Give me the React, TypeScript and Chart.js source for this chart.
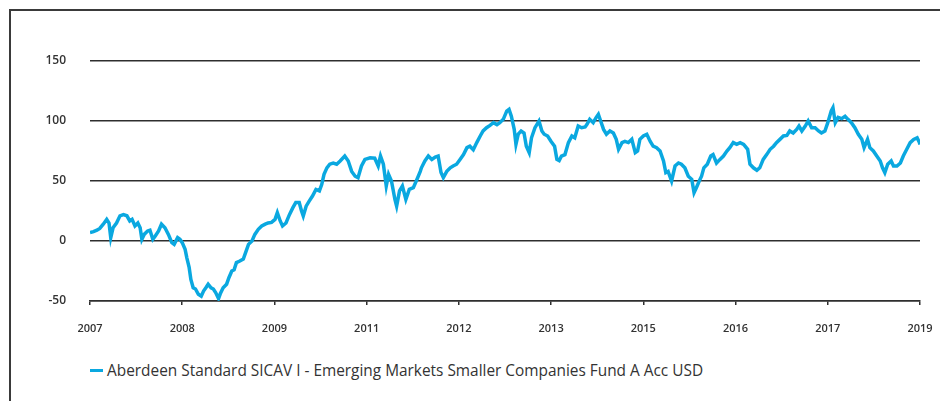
import React, { useEffect, useRef } from "react";
import { Chart, registerables } from "chart.js";

Chart.register(...registerables);

const seriesLabel =
  "Aberdeen Standard SICAV I - Emerging Markets Smaller Companies Fund A Acc USD";

// x axis: months since Jan 2007, ticks every 16 months
const tickMonths = [0, 16, 32, 48, 64, 80, 96, 112, 128, 144];
const tickLabels = ["2007", "2008", "2009", "2011", "2012", "2013", "2015", "2016", "2017", "2019"];
const yTicks = [-50, 0, 50, 100, 150];

const months = [
  0, 0.6, 1.2, 1.7, 2.3, 2.9, 3.3, 3.6, 4.0, 4.6,
  5.2, 5.8, 6.4, 6.9, 7.3, 7.8, 8.3, 8.7, 9.0, 9.4,
  10.0, 10.4, 10.9, 11.3, 11.9, 12.4, 13.0, 13.6, 14.2, 14.6,
  15.2, 15.6, 16.0, 16.5, 16.8, 17.2, 17.5, 17.9, 18.3, 18.8,
  19.3, 19.7, 20.1, 20.5, 21.0, 21.4, 21.8, 22.3, 22.6, 23.1,
  23.7, 24.1, 24.6, 25.0, 25.4, 26.0, 26.6, 27.1, 27.5, 28.1,
  28.6,
  29.2, 29.8, 30.4, 30.9, 31.5, 32.1, 32.5, 33.0, 33.4, 34.0,
  34.6, 35.2, 35.7, 36.3, 36.7, 37.0, 37.5, 38.0, 38.6, 39.2,
  39.8, 40.2, 40.6, 41.1, 41.6, 42.2, 42.8, 43.4, 44.2, 44.8,
  45.4, 46.0, 46.5, 47.1, 47.7, 48.6, 49.4, 50.0, 50.4, 50.9,
  51.4, 51.8, 52.3, 52.9, 53.2, 53.7, 54.2, 54.8, 55.4, 56.1,
  56.7, 57.3,
  57.5, 58.1, 58.7, 59.3, 59.9, 60.4, 60.9, 61.3, 61.9, 62.5,
  63.0, 63.6, 64.2, 64.8, 65.4, 65.9, 66.5, 67.1, 67.7, 68.2,
  68.8, 69.4, 70.0, 70.6, 71.1, 71.7, 72.3, 72.7, 73.1, 73.6,
  73.9, 74.3, 74.8, 75.3, 75.7, 76.2, 76.6, 77.2, 77.9, 78.4,
  78.8, 79.4, 80.0, 80.6, 81.0, 81.4, 81.8, 82.4, 83.0, 83.6,
  84.1, 84.7, 85.3, 85.9,
  86.2, 86.7, 87.3, 87.8, 88.2, 88.6, 89.1, 89.6, 90.2, 90.8,
  91.3, 91.7, 92.3, 92.8, 93.4, 94.0, 94.6, 95.0, 95.4, 96.0,
  96.6, 97.2, 97.7, 98.3, 98.9, 99.5, 99.9, 100.3, 100.9, 101.5,
  102.1, 102.6, 103.2, 103.8, 104.4, 104.8, 105.2, 105.7, 106.1, 106.5,
  107.1, 107.7, 108.1, 108.7, 109.3, 109.9, 110.5, 111.0, 111.6, 112.2,
  112.8, 113.4,
  114.1, 114.5, 115.1, 115.7, 116.2, 116.8, 117.4, 118.0, 118.6, 119.1,
  119.7, 120.3, 120.9, 121.4, 122.0, 122.6, 123.0, 123.5, 124.1, 124.6,
  125.2, 125.8, 126.4, 126.9, 127.5, 128.0, 128.6, 128.9, 129.3, 129.8,
  130.4, 131.0, 131.5, 132.1, 132.7, 133.3, 133.9, 134.3, 134.9, 135.3,
  135.9, 136.5, 137.1, 137.5, 137.9, 138.4, 139.0, 139.4, 140.0, 140.6,
  141.1, 141.7, 142.3, 142.9, 143.5, 143.9, 144,
];

const fundValues = [
  7, 7.8, 9, 10.5, 14, 18, 15, 2.8, 11, 15,
  21, 22, 21, 16.7, 18, 12.5, 15, 11, 1.4, 5.5,
  8.3, 9, 1.5, 4, 8.3, 14, 11, 5.5, -1.4, -2.8,
  2.8, 1.4, -1.4, -7, -14, -22, -32, -39, -40, -44.4,
  -46, -41.7, -39, -36, -39, -40, -43, -48, -44, -39,
  -36, -30.6, -25, -24, -18, -16.7, -15, -8.3, -2.8, 0,
  5.5,
  9.7, 12.5, 14, 15, 15.5, 18, 23.6, 16.7, 12.5, 15,
  22, 27.8, 32, 32, 25, 20.8, 29, 33, 37.5, 43,
  41.7, 47, 55.5, 61, 64, 65, 64, 66.7, 70.8, 66.7,
  58, 54, 52.8, 62.5, 68, 69.4, 69, 62.5, 70.8, 64,
  45.8, 55.5, 50, 34.7, 29, 41.7, 45.8, 34.7, 43, 44.4,
  51, 58,
  61, 66.7, 70.8, 68, 70, 70.8, 57, 52.8, 58, 61,
  62.5, 64, 68, 72, 77.8, 79, 76, 82, 87.5, 91.7,
  94.4, 96.4, 98.6, 97, 98.6, 101.4, 108.3, 109.7, 104, 93,
  80.5, 89, 91.7, 90, 79, 73.6, 86, 94.4, 100, 91.7,
  89, 87.5, 83, 79, 68, 67, 70.8, 72, 82, 87.5,
  86, 95.8, 94.4, 95,
  97, 101.4, 98.6, 102.8, 105.6, 100, 93, 89, 91.7, 90,
  84.7, 76.4, 82, 83, 82, 84.7, 73.6, 75, 84.7, 87.5,
  88.9, 83, 79, 77.8, 75, 66.7, 57, 58, 50, 62.5,
  65, 64, 61, 54, 51.4, 40.3, 44.4, 50, 54, 61,
  64, 70.8, 72, 65, 68, 70.8, 75, 77.8, 82, 80.5,
  82, 80.5,
  76.4, 64, 61, 59, 61, 68, 72, 76.4, 79, 82,
  84.7, 87.5, 88, 91.7, 90, 93, 95.8, 91.7, 95.8, 100,
  94.4, 94.4, 91.7, 90, 91.7, 98.6, 108.3, 111, 98.6, 103,
  102, 104, 101.4, 98.6, 94.4, 88.9, 84.7, 77.8, 84.7, 77.8,
  75, 70.8, 66.7, 61, 57, 64, 66.7, 62.5, 62.5, 65,
  70.8, 76.4, 82, 84.7, 86, 82, 80.5,
];

const LINE_COLOR = "#0aa8e0";
const TEXT_COLOR = "#333333";
const GRID_COLOR = "#2e2e2e";

export default function App() {
  const canvasRef = useRef<HTMLCanvasElement>(null);

  useEffect(() => {
    const canvas = canvasRef.current;
    if (!canvas) return;
    const chart = new Chart(canvas, {
      type: "line",
      data: {
        datasets: [
          {
            label: seriesLabel,
            data: months.map((m, i) => ({ x: m, y: fundValues[i] })),
            borderColor: LINE_COLOR,
            borderWidth: 3.5,
            pointRadius: 0,
            tension: 0,
            fill: false,
          },
        ],
      },
      options: {
        responsive: false,
        animation: false,
        devicePixelRatio: 1,
        layout: { padding: { top: 61, right: 20, left: 0, bottom: 0 } },
        plugins: { legend: { display: false }, tooltip: { enabled: false } },
        scales: {
          x: {
            type: "linear",
            min: 0,
            max: 144,
            afterBuildTicks: (s: any) => {
              s.ticks = tickMonths.map((v) => ({ value: v }));
            },
            afterFit: (s: any) => {
              s.height = 39;
              s.paddingRight = 0;
              s.paddingLeft = 0;
            },
            ticks: {
              callback: (_v: any, i: number) => tickLabels[i],
              maxRotation: 0,
              autoSkip: false,
              padding: 17,
              color: TEXT_COLOR,
              font: { family: "'Open Sans'", size: 11, weight: "600" },
            },
            grid: {
              drawOnChartArea: false,
              drawTicks: true,
              tickLength: 4,
              color: GRID_COLOR,
              lineWidth: 1.5,
            },
            border: { display: true, color: GRID_COLOR, width: 1.5 },
          },
          y: {
            min: -50,
            max: 150,
            afterBuildTicks: (s: any) => {
              s.ticks = yTicks.map((v) => ({ value: v }));
            },
            afterFit: (s: any) => {
              s.width = 90;
            },
            ticks: {
              padding: 24,
              color: TEXT_COLOR,
              font: { family: "'Open Sans'", size: 12, weight: "600" },
            },
            grid: { drawTicks: false, color: GRID_COLOR, lineWidth: 1.5 },
            border: { display: false },
          },
        },
      },
    });
    return () => chart.destroy();
  }, []);

  return (
    <div
      style={{
        position: "absolute",
        left: 0,
        top: 0,
        width: 940,
        height: 401,
        overflow: "hidden",
        background: "#fff",
      }}
    >
      <div
        style={{
          position: "absolute",
          left: 9,
          top: 9,
          width: 940,
          height: 400,
          borderLeft: "2px solid #3a3a3a",
          borderTop: "2px solid #3a3a3a",
        }}
      />
      <canvas
        ref={canvasRef}
        width={940}
        height={340}
        style={{ position: "absolute", left: 0, top: 0, display: "block" }}
      />
      <div
        style={{
          position: "absolute",
          left: 90,
          top: 359,
          height: 22,
          display: "flex",
          alignItems: "center",
          fontFamily: "'Open Sans', sans-serif",
          fontSize: 15.4,
          color: TEXT_COLOR,
          whiteSpace: "nowrap",
        }}
      >
        <span
          style={{
            display: "inline-block",
            width: 13,
            height: 3,
            background: LINE_COLOR,
            marginRight: 4,
          }}
        />
        <span>{seriesLabel}</span>
      </div>
    </div>
  );
}
